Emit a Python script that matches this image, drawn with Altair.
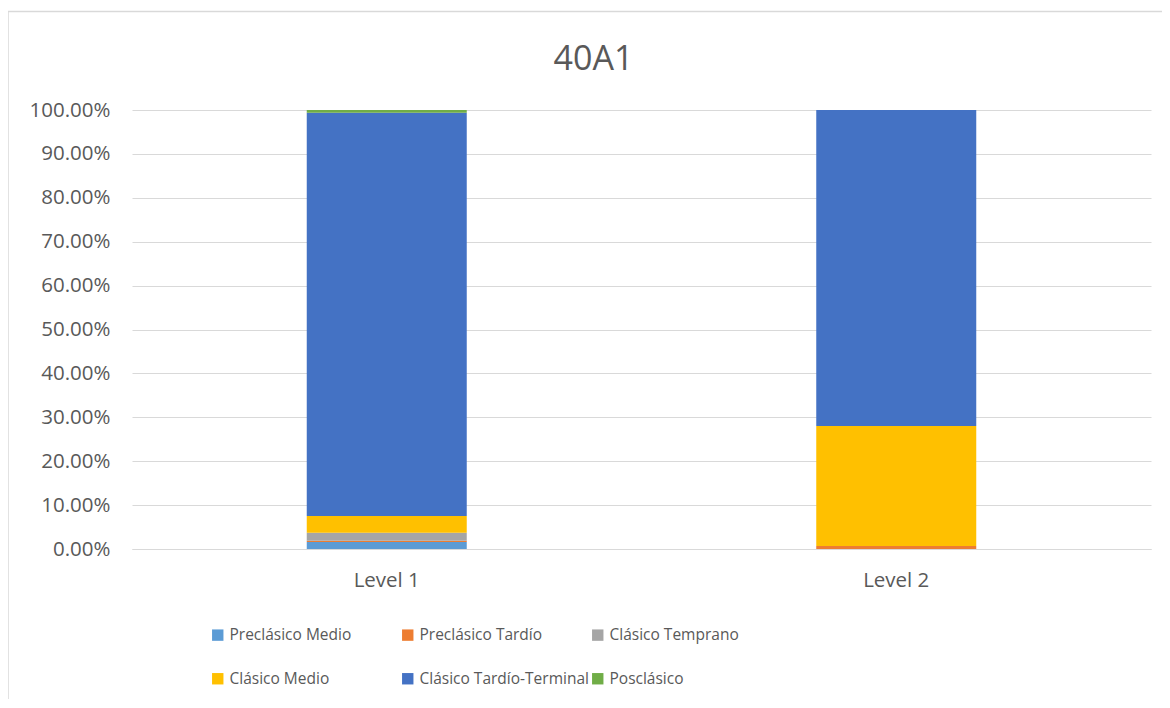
import altair as alt
import pandas as pd

levels = ["Level 1", "Level 2"]
periods = ["Preclásico Medio", "Preclásico Tardío", "Clásico Temprano",
           "Clásico Medio", "Clásico Tardío-Terminal", "Posclásico"]
colors = ["#5B9BD5", "#ED7D31", "#A5A5A5", "#FFC000", "#4472C4", "#70AD47"]
level1 = [0.016, 0.003, 0.018, 0.038, 0.919, 0.006]
level2 = [0.000, 0.007, 0.000, 0.273, 0.720, 0.000]
y_ticks = [0, 0.1, 0.2, 0.3, 0.4, 0.5, 0.6, 0.7, 0.8, 0.9, 1.0]

rows = []
for lvl, vals in zip(levels, [level1, level2]):
    for i, (p, v) in enumerate(zip(periods, vals)):
        rows.append({"level": lvl, "period": p, "value": v, "idx": i})
df = pd.DataFrame(rows)

FONT = "Open Sans"
GRAY = "#595959"
W, H = 1019, 439

bars = alt.Chart(df).mark_bar(size=160).encode(
    x=alt.X("level:N", sort=levels,
            scale=alt.Scale(paddingInner=0, paddingOuter=0),
            axis=alt.Axis(title=None, labelAngle=0, ticks=False, grid=False,
                          domainColor="#d9d9d9", domainWidth=1,
                          labelFont=FONT, labelFontSize=20.5, labelColor=GRAY,
                          labelPadding=21)),
    y=alt.Y("value:Q", stack="zero",
            scale=alt.Scale(domain=[0, 1], nice=False),
            axis=alt.Axis(title=None, values=y_ticks, format=".2%",
                          ticks=False, domain=False,
                          gridColor="#d9d9d9", gridWidth=1,
                          labelFont=FONT, labelFontSize=20.5, labelColor=GRAY,
                          labelPadding=22)),
    color=alt.Color("period:N", sort=periods,
                    scale=alt.Scale(domain=periods, range=colors),
                    legend=alt.Legend(title=None, orient="none",
                                      direction="horizontal",
                                      legendX=78, legendY=517,
                                      columns=3, gridAlign="all",
                                      columnPadding=1, rowPadding=27,
                                      symbolType="square", symbolSize=130,
                                      symbolStrokeWidth=0,
                                      labelFont=FONT, labelFontSize=15.5,
                                      labelColor=GRAY, labelOffset=4,
                                      labelLimit=400)),
    order=alt.Order("idx:Q", sort="ascending"),
)

border = alt.Chart(pd.DataFrame({"k": [0]})).mark_rect(
    fillOpacity=0, stroke="#d9d9d9", strokeWidth=1.5
).encode(
    x=alt.value(-124), x2=alt.value(1045),
    y=alt.value(-98.5), y2=alt.value(610),
)

chart = alt.layer(border, bars).properties(
    width=W, height=H,
    view=alt.ViewBackground(stroke="transparent", strokeWidth=0),
    title=alt.TitleParams("40A1", font=FONT, fontSize=34, fontWeight="normal",
                          color=GRAY, anchor="middle", dx=-48, offset=-66),
    autosize=alt.AutoSizeParams(type="none"),
    padding={"left": 124, "top": 102, "right": 11, "bottom": 150},
).configure_view(strokeWidth=0, stroke="transparent").configure(background="white")

chart.save("out.html", embed_options={"renderer": "svg", "actions": False})
